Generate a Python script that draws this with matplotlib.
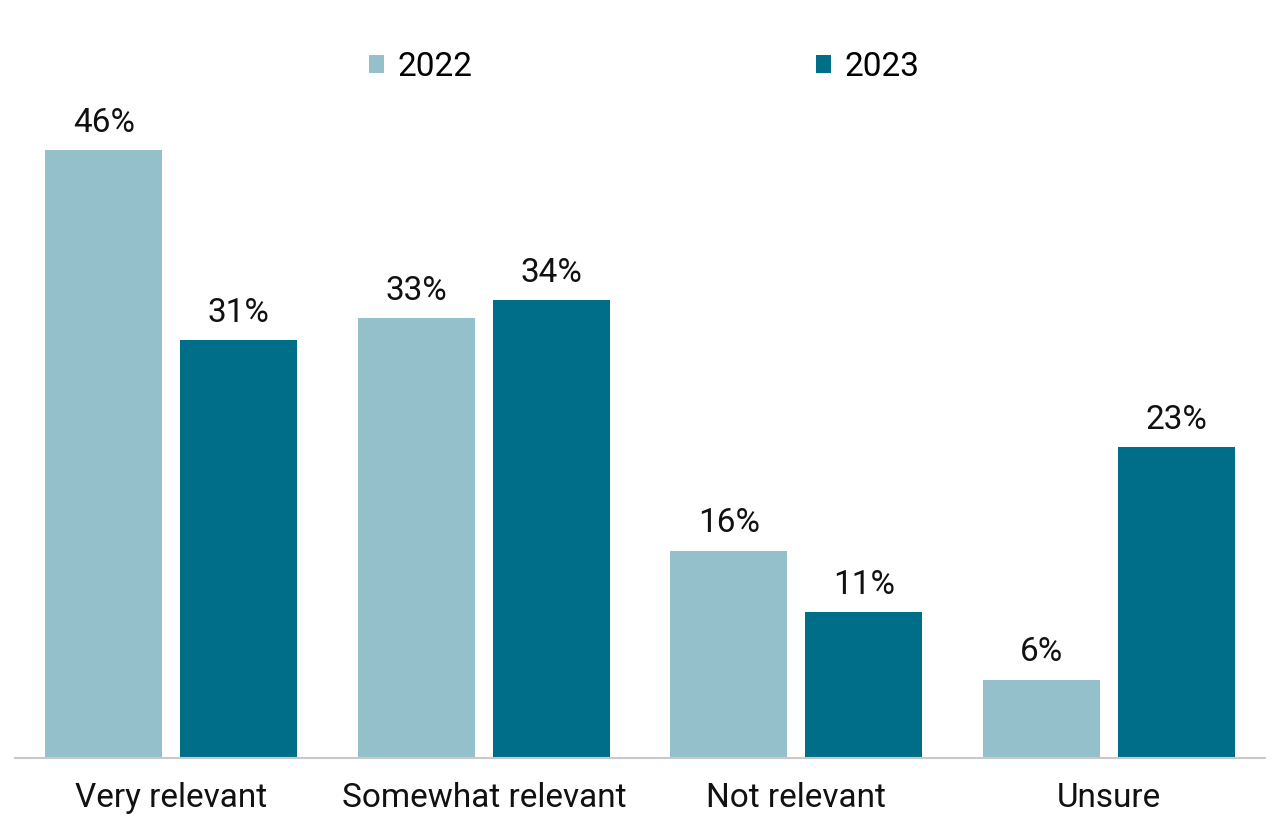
import numpy as np
import matplotlib.pyplot as plt

# survey answers, share of respondents (%)
categories = ['Very relevant', 'Somewhat relevant', 'Not relevant', 'Unsure']
vals_2022 = [45.7, 33.1, 15.6, 5.9]
vals_2023 = [31.4, 34.4, 11.0, 23.4]
years = ['2022', '2023']

c_light = '#94C0CC'
c_dark = '#006E89'

plt.rcParams['font.family'] = ['Roboto', 'DejaVu Sans']

fig = plt.figure(figsize=(12.8, 8.32), dpi=100)
ax = fig.add_axes([15/1280, 74/832, 1250/1280, 731.5/832])

x = np.arange(len(categories))
w = 0.374
off = 0.216

b1 = ax.bar(x - off, vals_2022, w, color=c_light, label=years[0])
b2 = ax.bar(x + off, vals_2023, w, color=c_dark, label=years[1])

for bars in (b1, b2):
    ax.bar_label(bars, labels=['%.0f%%' % v for v in bars.datavalues],
                 padding=8, fontsize=24, color='#111111')

ax.set_xlim(-0.5, 3.5)
ax.set_ylim(0, 55)
ax.set_xticks(x)
ax.set_xticklabels(categories, fontsize=24, color='#111111')
ax.tick_params(axis='x', length=0, pad=17)
ax.set_yticks([])

for s in ['top', 'right', 'left']:
    ax.spines[s].set_visible(False)
ax.spines['bottom'].set_color('#C8C8C8')
ax.spines['bottom'].set_linewidth(1.5)

fig.legend(loc='center', bbox_to_anchor=(644/1280, 1 - 67/832), ncol=2,
           frameon=False, fontsize=24, handlelength=0.45, handleheight=0.45,
           handletextpad=0.4, columnspacing=10.3)

fig.savefig('out.png', dpi=100)
